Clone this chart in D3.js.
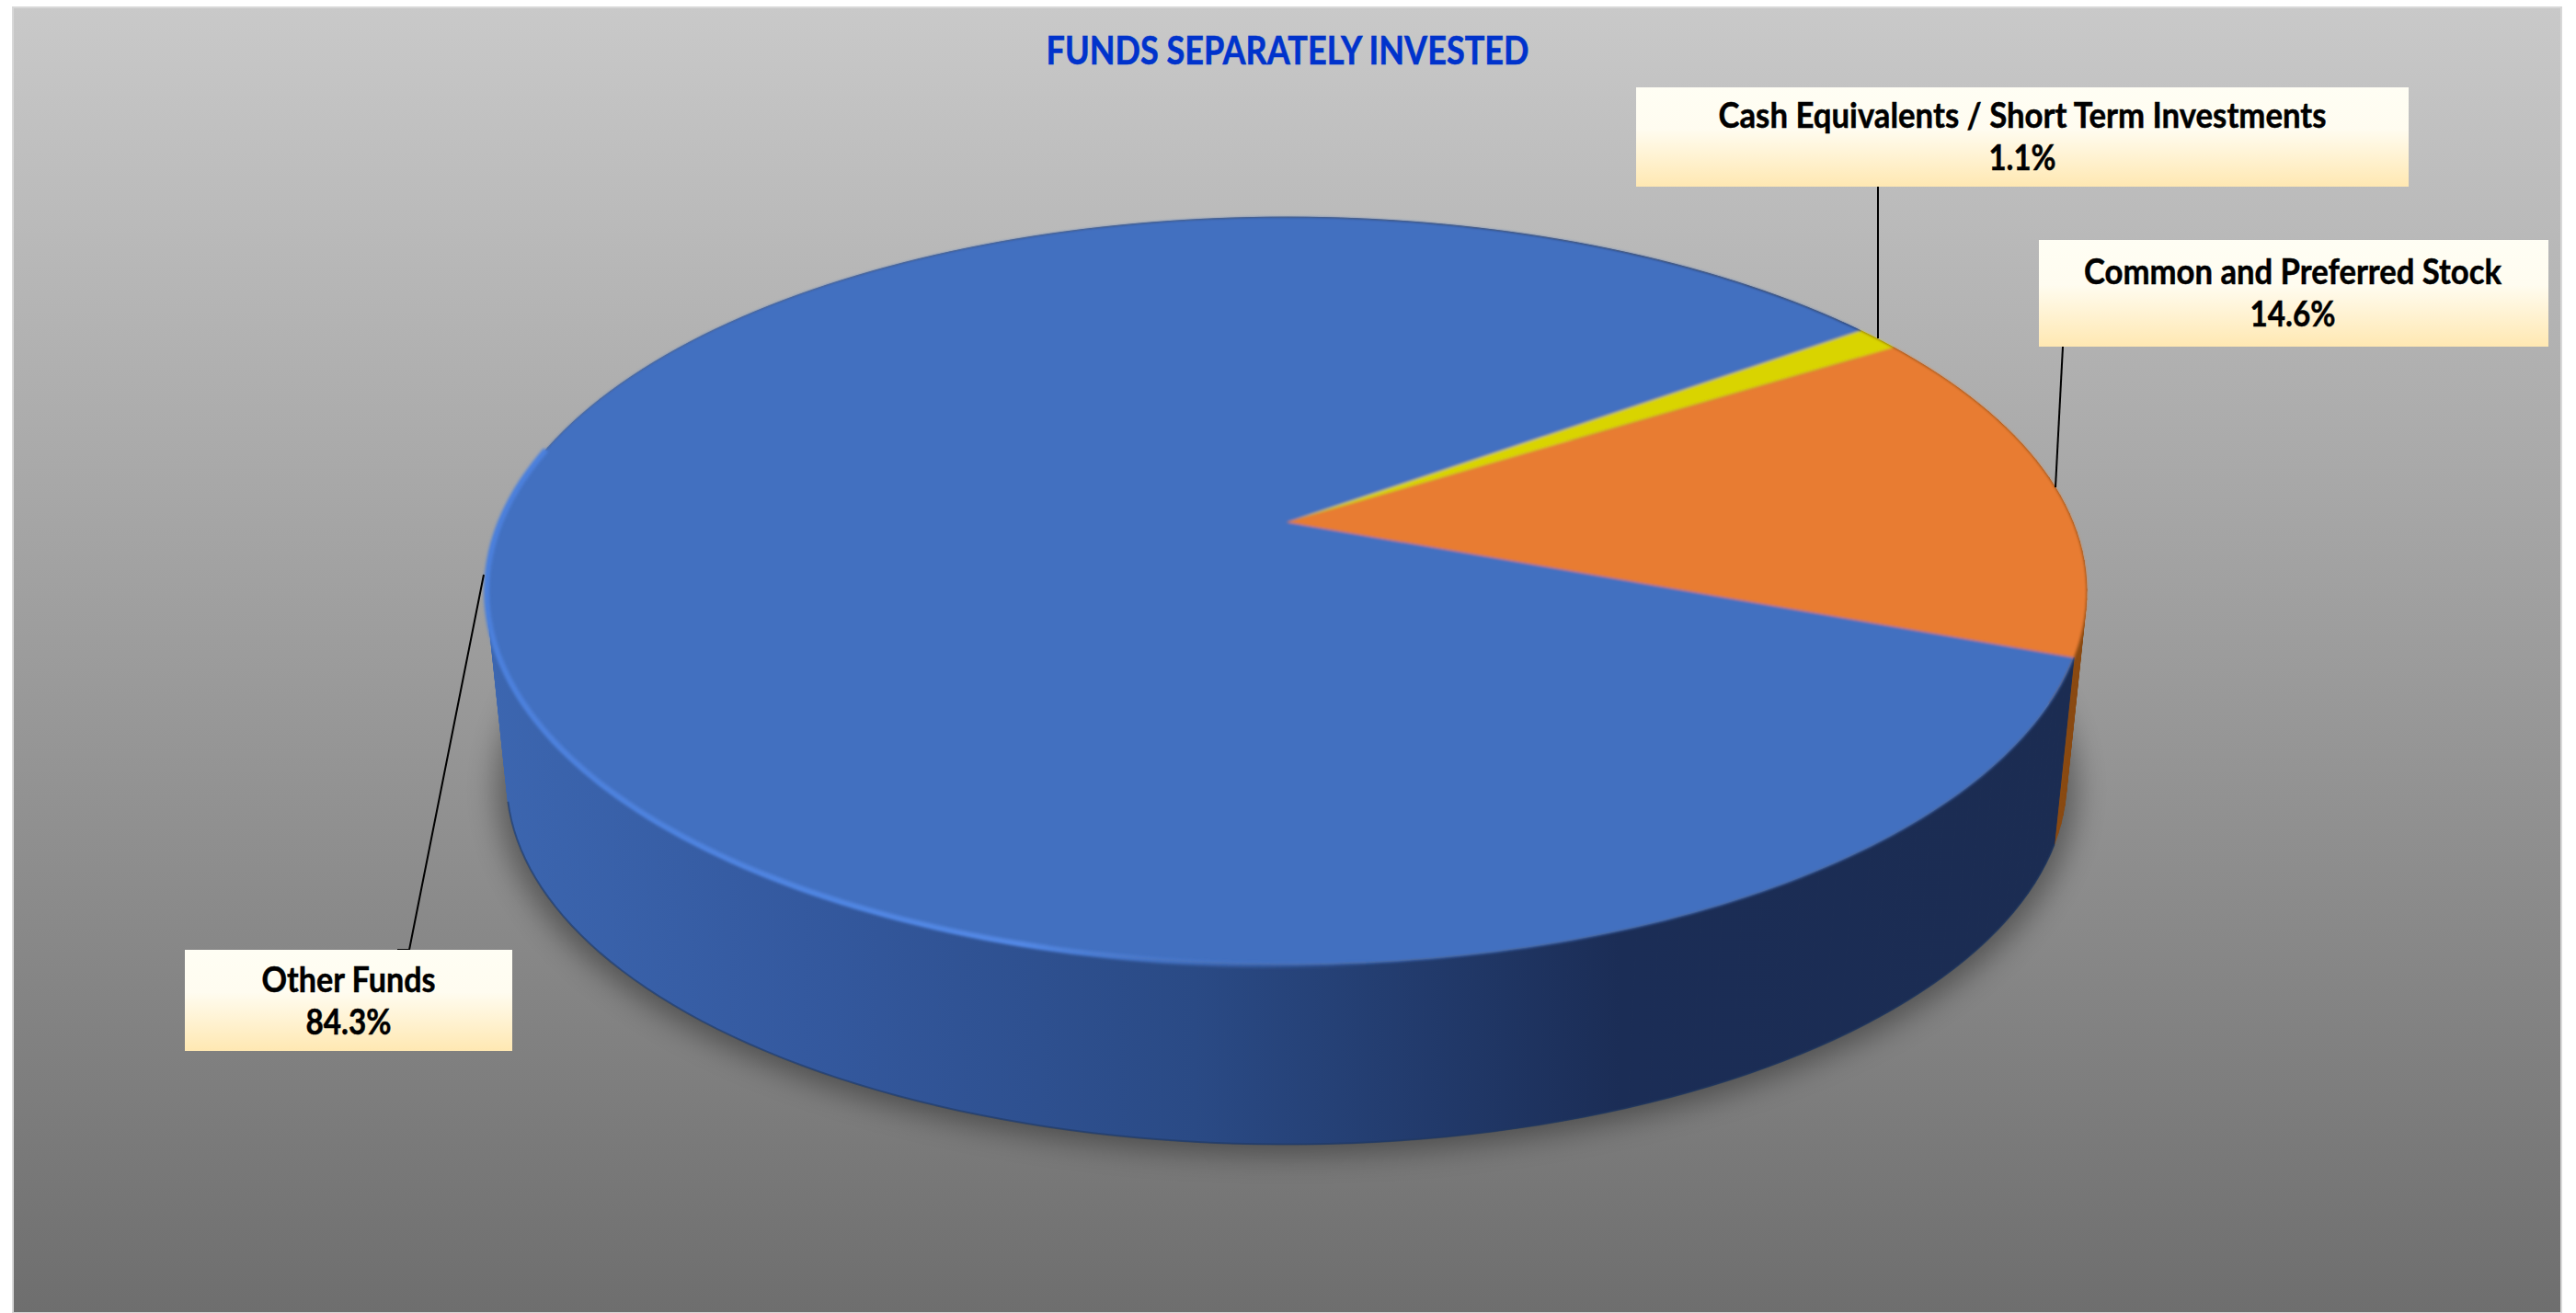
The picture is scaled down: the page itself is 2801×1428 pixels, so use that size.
<!DOCTYPE html>
<html>
<head>
<meta charset="utf-8">
<script src="https://cdn.jsdelivr.net/npm/d3@7"></script>
<style>html,body{margin:0;padding:0;background:#fff}svg{display:block}</style>
</head>
<body>
<div id="chart"></div>
<script>
const categories = ["Other Funds", "Cash Equivalents / Short Term Investments", "Common and Preferred Stock"];
const values = [84.3, 1.1, 14.6];
const valueLabels = ["84.3%", "1.1%", "14.6%"];
const topColors = ["#4270c0", "#d9d400", "#e87b30"];
const chartTitle = "FUNDS SEPARATELY INVESTED";

const W = 2801, H = 1428;
const deg = Math.PI / 180;
// perspective mapping of the pie's disc onto the picture plane
const apex = {x: 1399, y: 568}, persp = {a: 855, b: 393, k: 0.1843};
const wallGeom = {drop: 205, shrink: 0.975, cx: 1398, cy: 643};
const project = t => {
  const u = Math.sin(t), v = -Math.cos(t), d = 1 - persp.k * v;
  return [apex.x + persp.a * u / d, apex.y + persp.b * v / d];
};
const lower = ([x, y]) => [wallGeom.cx + wallGeom.shrink * (x - wallGeom.cx), wallGeom.cy + wallGeom.shrink * (y - wallGeom.cy) + wallGeom.drop];

const pieGen = d3.pie().sort(null).startAngle(110.5 * deg).endAngle((110.5 + 360) * deg);
const arcs = pieGen(values);
const rim = (a, b, n) => d3.range(n + 1).map(i => a + (b - a) * i / n);
const lineGen = d3.line();

const svg = d3.select("#chart").append("svg").attr("width", W).attr("height", H);
const defs = svg.append("defs");
function grad(id, attrs, stops) {
  const g = defs.append("linearGradient").attr("id", id).attr("gradientUnits", attrs.units || "objectBoundingBox")
    .attr("x1", attrs.x1).attr("y1", attrs.y1).attr("x2", attrs.x2).attr("y2", attrs.y2);
  stops.forEach(s => g.append("stop").attr("offset", s[0]).attr("stop-color", s[1]).attr("stop-opacity", s[2] === undefined ? 1 : s[2]));
}
grad("bg", {x1: 0, y1: 0, x2: 0, y2: 1}, [[0, "#c9c9c9"], [1, "#6e6e6e"]]);
grad("box", {x1: 0, y1: 0, x2: 0, y2: 1}, [[0, "#fffef4"], [0.42, "#fffcf0"], [1, "#ffe8b2"]]);
grad("wallBlue", {units: "userSpaceOnUse", x1: 530, y1: 0, x2: 2240, y2: 0},
  [[0, "#3c66b0"], [0.2, "#34599f"], [0.45, "#2a4a85"], [0.72, "#1b2d56"], [1, "#1b2c52"]]);
grad("hi", {units: "userSpaceOnUse", x1: 530, y1: 0, x2: 1500, y2: 0},
  [[0, "#4c80dc"], [0.6, "#5288e6"], [1, "#4270c0", 0]]);
const makeBlur = (id, s) => defs.append("filter").attr("id", id).attr("x", "-10%").attr("y", "-10%").attr("width", "120%").attr("height", "120%")
  .append("feGaussianBlur").attr("stdDeviation", s);
makeBlur("shadowBlur", 16); makeBlur("soft", 1.6);

svg.append("rect").attr("x", 14).attr("y", 8).attr("width", 2771).attr("height", H - 8)
  .attr("fill", "url(#bg)").attr("stroke", "#d8d8d8").attr("stroke-width", 2);

svg.append("text").attr("x", 1400).attr("y", 70).attr("text-anchor", "middle")
  .attr("font-family", "Lato").attr("font-weight", 700).attr("font-size", 42)
  .attr("textLength", 525).attr("lengthAdjust", "spacingAndGlyphs")
  .attr("fill", "#0033cc").attr("stroke", "#0033cc").attr("stroke-width", 0.6).text(chartTitle);

// shadow under the disc
const full = rim(0, 2 * Math.PI, 180);
svg.append("path").attr("d", lineGen(full.map(t => { const p = lower(project(t)); return [wallGeom.cx + 1.012 * (p[0] - wallGeom.cx), p[1] + 10]; })) + "Z")
  .attr("fill", "#000").attr("opacity", 0.38).attr("filter", "url(#shadowBlur)");

// side wall
const wallFill = ["url(#wallBlue)", "#8a6a00", "#8a4a12"];
[1, 2, 0].forEach(i => {
  const s = arcs[i], n = Math.max(2, Math.ceil((s.endAngle - s.startAngle) / (1.5 * deg))), ts = rim(s.startAngle, s.endAngle, n);
  svg.append("g").selectAll("path").data(d3.pairs(ts)).join("path")
    .attr("d", ([a, b]) => lineGen([project(a), project(b), lower(project(b)), lower(project(a))]) + "Z")
    .attr("fill", wallFill[i]).attr("stroke", wallFill[i]).attr("stroke-width", 1);
});
// wall's lower edge
svg.append("path").attr("d", lineGen(rim(110.5 * deg, 256 * deg, 100).map(t => lower(project(t)))))
  .attr("fill", "none").attr("stroke", "#22385f").attr("stroke-width", 2).attr("opacity", 0.6);

// top faces
const faces = svg.append("g").attr("filter", "url(#soft)");
faces.selectAll("path").data(arcs).join("path")
  .attr("d", s => {
    const n = Math.max(2, Math.ceil((s.endAngle - s.startAngle) / (1 * deg)));
    return lineGen([[apex.x, apex.y]].concat(rim(s.startAngle, s.endAngle, n).map(project))) + "Z";
  })
  .attr("fill", (s, i) => topColors[i]);

// rim highlight on the front-left, thin rim on the back
svg.append("path").attr("d", lineGen(rim(172 * deg, 282 * deg, 100).map(project)))
  .attr("fill", "none").attr("stroke", "url(#hi)").attr("stroke-width", 6).attr("filter", "url(#soft)");
svg.append("path").attr("d", lineGen(rim(282 * deg, 412 * deg, 90).map(project)))
  .attr("fill", "none").attr("stroke", "#6f6f6f").attr("stroke-width", 1.2).attr("opacity", 0.3);

// labels
const boxes = [
  {x: 201, y: 1033, w: 356, h: 110, tx: 379, b1: 1079, b2: 1125, l1: 189, l2: 93, leader: [[526, 625], [445, 1033], [432, 1033]]},
  {x: 1779, y: 95, w: 840, h: 108, tx: 2199, b1: 139, b2: 185, l1: 661, l2: 73, leader: [[2042, 203], [2042, 368]]},
  {x: 2217, y: 261, w: 554, h: 116, tx: 2493, b1: 309, b2: 355, l1: 454, l2: 93, leader: [[2243, 377], [2235, 530]]}
];
const labels = svg.append("g").attr("font-family", "Lato").attr("font-weight", 700).attr("font-size", 38).attr("fill", "#000").attr("stroke", "#000").attr("stroke-width", 0.5).attr("text-anchor", "middle");
boxes.forEach((b, i) => {
  svg.append("path").attr("d", lineGen(b.leader)).attr("fill", "none").attr("stroke", "#000").attr("stroke-width", 2);
  labels.append("rect").attr("x", b.x).attr("y", b.y).attr("width", b.w).attr("height", b.h).attr("fill", "url(#box)").attr("stroke", "none");
  labels.append("text").attr("x", b.tx).attr("y", b.b1).attr("textLength", b.l1).attr("lengthAdjust", "spacingAndGlyphs").text(categories[i]);
  labels.append("text").attr("x", b.tx).attr("y", b.b2).attr("textLength", b.l2).attr("lengthAdjust", "spacingAndGlyphs").text(valueLabels[i]);
});
labels.raise();
</script>
</body>
</html>
